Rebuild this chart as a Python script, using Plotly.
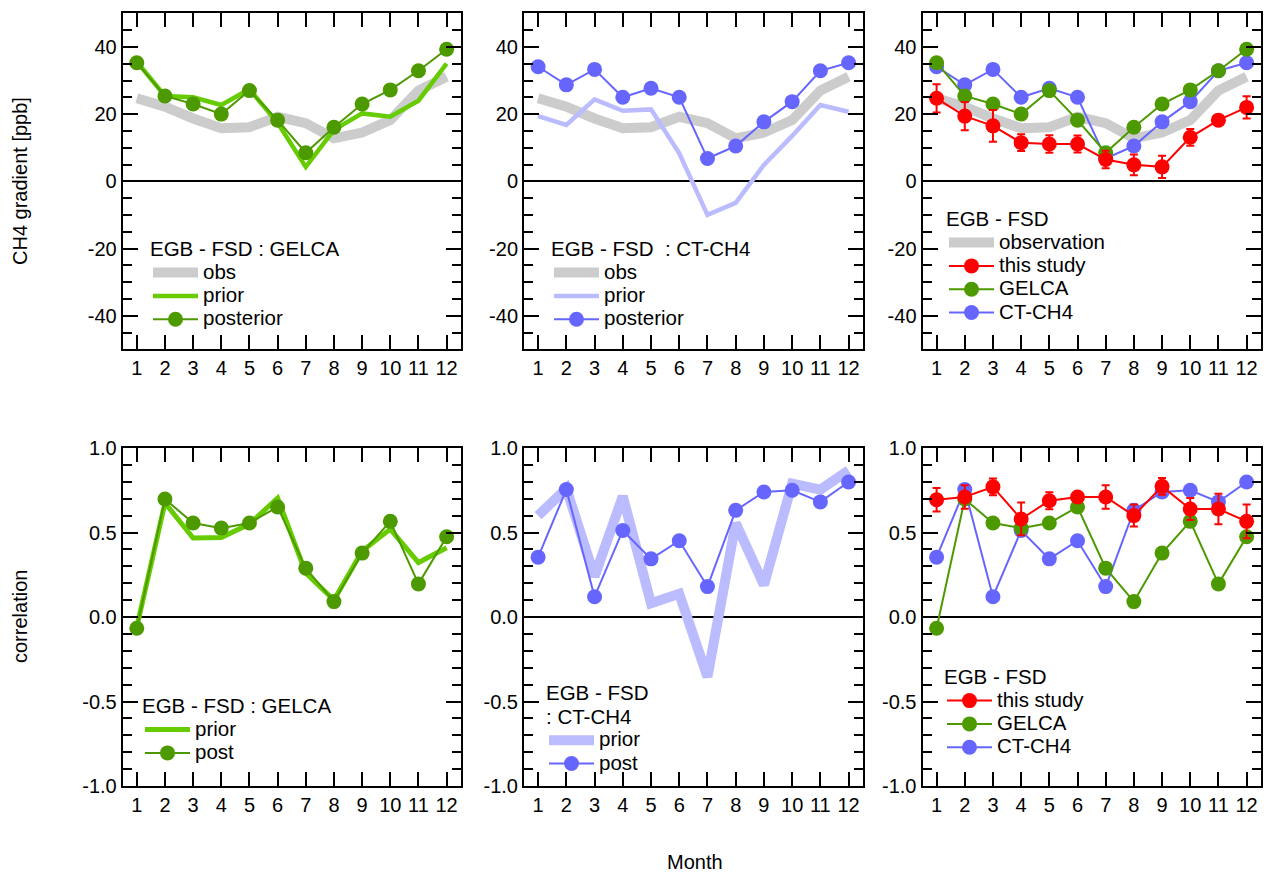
import plotly.graph_objects as go

# ---------------- data ----------------
months = list(range(1, 13))
month_labels = [str(m) for m in months]

# CH4 gradient EGB - FSD [ppb]
obs_grad = [24.7, 22.2, 18.7, 15.8, 16.1, 19.2, 17.3, 12.8, 14.5, 18.2, 27.0, 31.1]
gelca_prior_grad = [35.6, 25.4, 25.0, 22.7, 27.4, 17.4, 4.3, 15.3, 20.2, 19.2, 24.0, 35.0]
gelca_post_grad = [35.3, 25.4, 23.0, 20.0, 27.0, 18.2, 8.5, 16.1, 23.0, 27.2, 32.9, 39.3]
ct_prior_grad = [19.4, 16.8, 24.4, 21.0, 21.4, 8.3, -10.0, -6.4, 4.9, 13.5, 22.7, 20.7]
ct_post_grad = [34.1, 28.7, 33.3, 25.0, 27.7, 25.0, 6.8, 10.5, 17.7, 23.7, 32.9, 35.3]
study_grad = [24.7, 19.4, 16.5, 11.5, 11.1, 11.1, 6.5, 4.9, 4.3, 13.1, 18.2, 22.0]
study_grad_err = [4.2, 4.2, 4.7, 2.5, 2.6, 2.5, 2.6, 3.1, 3.3, 2.5, 1.0, 3.3]

# correlation
gelca_prior_corr = [-0.06, 0.675, 0.467, 0.471, 0.55, 0.704, 0.26, 0.10, 0.39, 0.52, 0.322, 0.41]
gelca_post_corr = [-0.067, 0.698, 0.556, 0.526, 0.556, 0.651, 0.289, 0.091, 0.378, 0.566, 0.196, 0.475]
ct_prior_corr = [0.60, 0.76, 0.24, 0.714, 0.081, 0.137, -0.354, 0.556, 0.19, 0.789, 0.754, 0.868]
ct_post_corr = [0.354, 0.754, 0.12, 0.512, 0.344, 0.451, 0.18, 0.631, 0.74, 0.75, 0.681, 0.799]
study_corr = [0.694, 0.71, 0.77, 0.58, 0.688, 0.71, 0.71, 0.60, 0.773, 0.639, 0.639, 0.566]
study_corr_err = [0.07, 0.07, 0.05, 0.097, 0.05, 0.03, 0.07, 0.065, 0.05, 0.065, 0.09, 0.10]

grad_tickvals = [-40, -20, 0, 20, 40]
grad_ticktext = ["-40", "-20", "0", "20", "40"]
corr_tickvals = [-1.0, -0.5, 0.0, 0.5, 1.0]
corr_ticktext = ["-1.0", "-0.5", "0.0", "0.5", "1.0"]

# ---------------- styles ----------------
GRAY = "#cccccc"
G_PRIOR = "#66cc00"
G_POST = "#4c9900"
B_PRIOR = "#bbbbff"
B_POST = "#6666ff"
RED = "#ff0000"
FONT = "Liberation Sans, Arial, sans-serif"
TICK_FS = 20
LEG_FS = 15.6      # controls legend row spacing
LEG_TXT_FS = 20.5  # visible legend text size

W, H = 1270, 876
col_px = [(122.7, 460.7), (524.0, 862.7), (922.5, 1260.7)]
row_px = [(13.3, 349.3), (448.0, 786.0)]

fig = go.Figure()


def big(s):
    return "<span style='font-size:%spx'>%s</span>" % (LEG_TXT_FS, s)


def thick(x, y, color, name, ax, leg, width=10, rank=1000):
    fig.add_trace(go.Scatter(
        x=x, y=y, mode="lines", name=big(name),
        line=dict(color=color, width=width),
        xaxis="x" + ax, yaxis="y" + ax, legend=leg, showlegend=True,
        legendrank=rank))


def marked(x, y, color, name, ax, leg, err=None, rank=1000):
    kw = {}
    if err is not None:
        kw["error_y"] = dict(type="data", array=err, color=color,
                             thickness=2, width=4, visible=True)
    fig.add_trace(go.Scatter(
        x=x, y=y, mode="lines+markers", name=big(name),
        line=dict(color=color, width=2),
        marker=dict(color=color, size=15),
        xaxis="x" + ax, yaxis="y" + ax, legend=leg, showlegend=True,
        legendrank=rank, **kw))


# panel 1
thick(months, obs_grad, GRAY, "obs", "", "legend")
thick(months, gelca_prior_grad, G_PRIOR, "prior", "", "legend", width=4.5)
marked(months, gelca_post_grad, G_POST, "posterior", "", "legend")
# panel 2
thick(months, obs_grad, GRAY, "obs", "2", "legend2")
thick(months, ct_prior_grad, B_PRIOR, "prior", "2", "legend2", width=4.5)
marked(months, ct_post_grad, B_POST, "posterior", "2", "legend2")
# panel 3
thick(months, obs_grad, GRAY, "observation", "3", "legend3", rank=1)
marked(months, ct_post_grad, B_POST, "CT-CH4", "3", "legend3", rank=4)
marked(months, gelca_post_grad, G_POST, "GELCA", "3", "legend3", rank=3)
marked(months, study_grad, RED, "this study", "3", "legend3", err=study_grad_err, rank=2)
# panel 4
thick(months, gelca_prior_corr, G_PRIOR, "prior", "4", "legend4", width=5)
marked(months, gelca_post_corr, G_POST, "post", "4", "legend4")
# panel 5
thick(months, ct_prior_corr, B_PRIOR, "prior", "5", "legend5", width=10)
marked(months, ct_post_corr, B_POST, "post", "5", "legend5")
# panel 6
marked(months, ct_post_corr, B_POST, "CT-CH4", "6", "legend6", rank=3)
marked(months, gelca_post_corr, G_POST, "GELCA", "6", "legend6", rank=2)
marked(months, study_corr, RED, "this study", "6", "legend6", err=study_corr_err, rank=1)

layout = dict(
    template="none",
    width=W, height=H,
    margin=dict(l=0, r=0, t=0, b=0, pad=0, autoexpand=False),
    paper_bgcolor="white", plot_bgcolor="white",
    font=dict(family=FONT, size=TICK_FS, color="black"),
)

for i in range(6):
    r, c = divmod(i, 3)
    sfx = "" if i == 0 else str(i + 1)
    x0, x1 = col_px[c]
    t, b = row_px[r]
    layout["xaxis" + sfx] = dict(
        domain=[x0 / W, x1 / W], anchor="y" + sfx,
        range=[0.5, 12.5], tickvals=months, ticktext=month_labels,
        ticks="inside", ticklen=14, tickwidth=1.5, tickcolor="black",
        showline=True, linewidth=2, linecolor="black", mirror="ticks",
        showgrid=False, zeroline=False, fixedrange=True, automargin=False,
        tickfont=dict(size=TICK_FS, family=FONT, color="black"),
    )
    if r == 0:
        yr, tv, tt, md = [-50, 50], grad_tickvals, grad_ticktext, 5
    else:
        yr, tv, tt, md = [-1, 1], corr_tickvals, corr_ticktext, 0.1
    layout["yaxis" + sfx] = dict(
        domain=[1 - b / H, 1 - t / H], anchor="x" + sfx,
        range=yr, tickvals=tv, ticktext=tt,
        ticks="inside", ticklen=15, tickwidth=1.5, tickcolor="black",
        minor=dict(dtick=md, tick0=0, ticks="inside", ticklen=9,
                   tickwidth=1.5, tickcolor="black", showgrid=False),
        showline=True, linewidth=2, linecolor="black", mirror="ticks",
        showgrid=False, zeroline=True, zerolinecolor="black",
        zerolinewidth=1.8, fixedrange=True, automargin=False,
        tickfont=dict(size=TICK_FS, family=FONT, color="black"),
    )


def leg(xpx, ypx, title, title_fs=LEG_FS):
    lines = "<br>".join(big(s) for s in title.split("<br>"))
    return dict(
        x=xpx / W, y=1 - ypx / H, xanchor="left", yanchor="top",
        bgcolor="rgba(0,0,0,0)", borderwidth=0,
        title=dict(text=lines, font=dict(size=title_fs, family=FONT, color="black")),
        font=dict(size=LEG_FS, family=FONT, color="black"),
        itemwidth=45, tracegroupgap=0, traceorder="normal",
    )


layout["legend"] = leg(148, 235.7, "EGB - FSD : GELCA")
layout["legend2"] = leg(549, 235.7, "EGB - FSD  : CT-CH4")
layout["legend3"] = leg(944, 205.7, "EGB - FSD")
layout["legend4"] = leg(140, 692.7, "EGB - FSD : GELCA")
layout["legend5"] = leg(544, 675.5, "EGB - FSD<br>: CT-CH4", title_fs=18.5)
layout["legend6"] = leg(942, 663.7, "EGB - FSD")

ann_font = dict(size=TICK_FS, family=FONT, color="black")
layout["annotations"] = [
    dict(text="CH4 gradient [ppb]", x=20 / W, y=1 - 181 / H, xref="paper",
         yref="paper", textangle=-90, showarrow=False,
         xanchor="center", yanchor="middle", font=ann_font),
    dict(text="correlation", x=20 / W, y=1 - 617 / H, xref="paper",
         yref="paper", textangle=-90, showarrow=False,
         xanchor="center", yanchor="middle", font=ann_font),
    dict(text="Month", x=695 / W, y=1 - 862 / H, xref="paper",
         yref="paper", showarrow=False,
         xanchor="center", yanchor="middle", font=ann_font),
]

fig.update_layout(**layout)
fig.write_html("out.html")
